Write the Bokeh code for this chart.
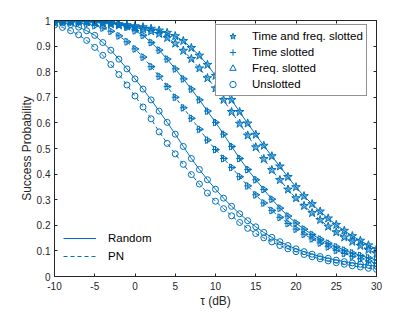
import numpy as np
from bokeh.plotting import figure
from bokeh.models import (Range1d, LinearAxis, FixedTicker, Legend, LegendItem,
                          ColumnDataSource)
from bokeh.embed import file_html
from bokeh.resources import INLINE

# ---------------- data ----------------
tau_db = list(range(-10, 31))

# Time and freq. slotted
tf_random = [1.000, 0.999, 0.999, 0.998, 0.997, 0.995, 0.993, 0.990, 0.986, 0.982,
             0.978, 0.974, 0.968, 0.961, 0.952, 0.939, 0.920, 0.893, 0.863, 0.827,
             0.784, 0.737, 0.690, 0.643, 0.598, 0.554, 0.511, 0.470, 0.430, 0.389,
             0.349, 0.314, 0.283, 0.254, 0.227, 0.202, 0.179, 0.158, 0.140, 0.122, 0.107]
tf_pn = [0.999, 0.998, 0.997, 0.996, 0.994, 0.992, 0.989, 0.985, 0.981, 0.977,
         0.972, 0.966, 0.958, 0.948, 0.932, 0.910, 0.882, 0.850, 0.813, 0.775,
         0.735, 0.690, 0.643, 0.597, 0.551, 0.505, 0.459, 0.416, 0.377, 0.340,
         0.306, 0.276, 0.248, 0.221, 0.195, 0.173, 0.153, 0.136, 0.120, 0.104, 0.090]

# Time slotted / Freq. slotted (share the same curves)
ts_random = [0.999, 0.999, 0.998, 0.998, 0.997, 0.996, 0.995, 0.991, 0.984, 0.974,
             0.960, 0.942, 0.914, 0.884, 0.849, 0.811, 0.772, 0.732, 0.690, 0.646,
             0.602, 0.556, 0.508, 0.461, 0.418, 0.378, 0.340, 0.302, 0.267, 0.236,
             0.209, 0.185, 0.164, 0.146, 0.130, 0.116, 0.103, 0.092, 0.082, 0.073, 0.065]
ts_pn = [0.997, 0.995, 0.993, 0.990, 0.986, 0.980, 0.971, 0.958, 0.940, 0.917,
         0.889, 0.857, 0.820, 0.782, 0.742, 0.700, 0.659, 0.618, 0.575, 0.533,
         0.496, 0.461, 0.426, 0.390, 0.354, 0.319, 0.287, 0.258, 0.231, 0.207,
         0.185, 0.165, 0.147, 0.131, 0.116, 0.102, 0.090, 0.079, 0.069, 0.060, 0.051]
fs_random = list(ts_random)
fs_pn = list(ts_pn)

# Unslotted
un_random = [0.995, 0.991, 0.984, 0.974, 0.960, 0.942, 0.914, 0.884, 0.849, 0.811,
             0.772, 0.732, 0.690, 0.646, 0.602, 0.556, 0.508, 0.461, 0.418, 0.378,
             0.341, 0.306, 0.274, 0.245, 0.218, 0.194, 0.172, 0.153, 0.136, 0.121,
             0.108, 0.097, 0.087, 0.078, 0.071, 0.064, 0.058, 0.053, 0.048, 0.044, 0.040]
un_pn = [0.982, 0.973, 0.960, 0.944, 0.922, 0.895, 0.864, 0.828, 0.789, 0.748,
         0.705, 0.662, 0.616, 0.565, 0.520, 0.479, 0.438, 0.398, 0.361, 0.326,
         0.294, 0.265, 0.237, 0.211, 0.188, 0.168, 0.151, 0.135, 0.121, 0.108,
         0.097, 0.086, 0.077, 0.069, 0.061, 0.054, 0.048, 0.042, 0.037, 0.032, 0.028]

x_ticks = [-10, -5, 0, 5, 10, 15, 20, 25, 30]
x_tick_labels = ["-10", "-5", "0", "5", "10", "15", "20", "25", "30"]
y_ticks = [0, 0.1, 0.2, 0.3, 0.4, 0.5, 0.6, 0.7, 0.8, 0.9, 1]
y_tick_labels = ["0", "0.1", "0.2", "0.3", "0.4", "0.5", "0.6", "0.7", "0.8", "0.9", "1"]

# ---------------- styling ----------------
BLUE = "#0072BD"
AX = "#262626"
FONT = "Liberation Sans"

src = ColumnDataSource(dict(tau=tau_db, tf_random=tf_random, tf_pn=tf_pn,
                            ts_random=ts_random, ts_pn=ts_pn,
                            fs_random=fs_random, fs_pn=fs_pn,
                            un_random=un_random, un_pn=un_pn))

p = figure(width=406, height=310,
           x_range=Range1d(-10, 30), y_range=Range1d(0, 1),
           output_backend="svg", toolbar_location=None,
           min_border_left=54, min_border_right=30,
           min_border_top=20, min_border_bottom=33,
           background_fill_color="white", border_fill_color="white")
p.xgrid.visible = False
p.ygrid.visible = False
p.outline_line_color = AX
p.outline_line_width = 1

for ax in (p.xaxis[0], p.yaxis[0]):
    ax.axis_line_color = AX
    ax.major_tick_line_color = AX
    ax.major_tick_in = 3
    ax.major_tick_out = 0
    ax.minor_tick_line_color = None
    ax.major_label_text_font = FONT
    ax.major_label_text_font_size = "10px"
    ax.major_label_text_color = AX
    ax.axis_label_text_font = FONT
    ax.axis_label_text_font_size = "12px"
    ax.axis_label_text_font_style = "normal"
    ax.axis_label_text_color = AX

p.xaxis.ticker = FixedTicker(ticks=x_ticks)
p.xaxis.major_label_overrides = {t: l for t, l in zip(x_ticks, x_tick_labels)}
p.xaxis.axis_label = "τ (dB)"
p.xaxis.major_label_standoff = 5
p.xaxis.axis_label_standoff = 1

p.yaxis.ticker = FixedTicker(ticks=y_ticks)
p.yaxis.major_label_overrides = {t: l for t, l in zip(y_ticks, y_tick_labels)}
p.yaxis.axis_label = "Success Probability"
p.yaxis.major_label_standoff = 4
p.yaxis.axis_label_standoff = 0

# box-style axes on top and right with inward ticks
top = LinearAxis(ticker=FixedTicker(ticks=x_ticks),
                 major_label_overrides={t: "" for t in x_ticks},
                 axis_line_color=AX, major_tick_line_color=AX,
                 major_tick_in=3, major_tick_out=0, minor_tick_line_color=None,
                 major_label_standoff=0)
right = LinearAxis(ticker=FixedTicker(ticks=y_ticks),
                   major_label_overrides={t: "" for t in y_ticks},
                   axis_line_color=AX, major_tick_line_color=AX,
                   major_tick_in=3, major_tick_out=0, minor_tick_line_color=None,
                   major_label_standoff=0)
p.add_layout(top, "above")
p.add_layout(right, "right")

# ---------------- curves ----------------
lines_solid = []
lines_dash = []
for col in ("tf_random", "ts_random", "un_random"):
    lines_solid.append(p.line("tau", col, source=src, line_color=BLUE, line_width=1))
for col in ("tf_pn", "ts_pn", "un_pn"):
    lines_dash.append(p.line("tau", col, source=src, line_color=BLUE, line_width=1,
                             line_dash="4 3"))

mk = dict(source=src, line_color=BLUE, line_width=1)
r_star = [p.scatter("tau", c, marker="star", size=9, fill_color=BLUE, fill_alpha=0.55, **mk)
          for c in ("tf_random", "tf_pn")]
r_plus = [p.scatter("tau", c, marker="cross", size=7, fill_color=None, **mk)
          for c in ("ts_random", "ts_pn")]
r_tri = [p.scatter("tau", c, marker="triangle", size=7, angle=-np.pi / 2,
                   fill_color=None, **mk)
         for c in ("fs_random", "fs_pn")]
r_circ = [p.scatter("tau", c, marker="circle", size=6, fill_color=None, **mk)
          for c in ("un_random", "un_pn")]

leg1 = Legend(items=[LegendItem(label="Time and freq. slotted", renderers=[r_star[0]]),
                     LegendItem(label="Time slotted", renderers=[r_plus[0]]),
                     LegendItem(label="Freq. slotted", renderers=[r_tri[0]]),
                     LegendItem(label="Unslotted", renderers=[r_circ[0]])],
              location=(161, 180), margin=0, padding=3, spacing=0,
              glyph_width=27, glyph_height=16, label_height=16, label_standoff=6,
              label_text_font=FONT, label_text_font_size="11.5px",
              label_text_color="black",
              border_line_color=AX, border_line_width=1,
              background_fill_color="white", background_fill_alpha=1)
leg2 = Legend(items=[LegendItem(label="Random", renderers=[lines_solid[0]]),
                     LegendItem(label="PN", renderers=[lines_dash[0]])],
              location=(9, 11), margin=0, padding=5, spacing=0,
              glyph_width=33, glyph_height=18, label_height=18, label_standoff=12,
              label_text_font=FONT, label_text_font_size="11.5px",
              label_text_color="black",
              border_line_color=None, background_fill_alpha=0)
p.add_layout(leg1)
p.add_layout(leg2)

open("out.html", "w").write(file_html(p, INLINE))
